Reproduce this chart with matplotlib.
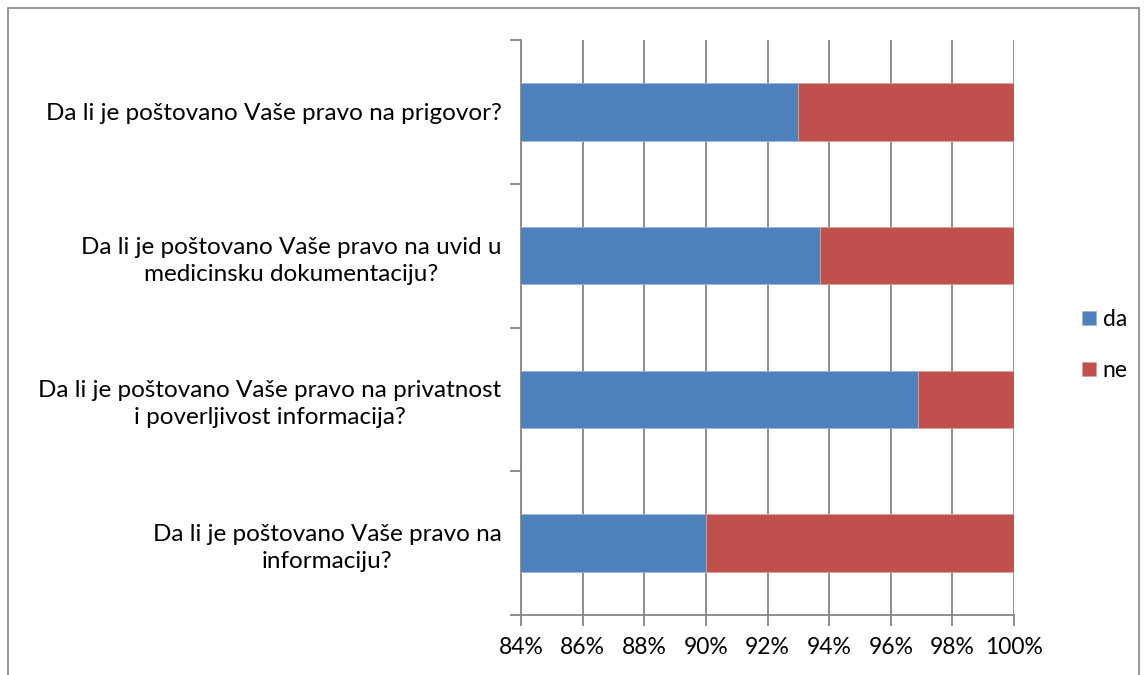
import matplotlib.pyplot as plt
from matplotlib.patches import Rectangle
from matplotlib.ticker import FixedLocator

plt.rcParams['font.family'] = ['Lato', 'DejaVu Sans']

# data (bottom to top as drawn)
questions = [
    "Da li je poštovano Vaše pravo na\ninformaciju?",
    "Da li je poštovano Vaše pravo na privatnost\ni poverljivost informacija?",
    "Da li je poštovano Vaše pravo na uvid u\nmedicinsku dokumentaciju?",
    "Da li je poštovano Vaše pravo na prigovor?",
]
da = [90.0, 96.9, 93.7, 93.0]
ne = [10.0, 3.1, 6.3, 7.0]
xticks = [84, 86, 88, 90, 92, 94, 96, 98, 100]

blue = '#4F81BD'
red = '#C0504D'
grid_c = '#868686'

W, H = 1147, 675
fig = plt.figure(figsize=(W / 100, H / 100), dpi=100)
ax = fig.add_axes([521 / W, 1 - 615 / H, (1014 - 521) / W, (615 - 40) / H])

pos = list(range(len(questions)))
ax.barh(pos, da, height=0.4, color=blue, edgecolor='#9db7d9', linewidth=0.6, label='da', zorder=3)
ax.barh(pos, ne, left=da, height=0.4, color=red, edgecolor='#dca09f', linewidth=0.6, label='ne', zorder=3)

ax.set_xlim(84, 100)
ax.set_ylim(-0.5, len(questions) - 0.5)
ax.set_xticks(xticks)
ax.set_xticklabels([f"{t}%" for t in xticks], fontsize=16.5)
ax.xaxis.grid(True, color=grid_c, linewidth=1.3, zorder=0)

ax.set_yticks(pos)
ax.set_yticklabels(questions, fontsize=17.5, multialignment='center', linespacing=1.35)
ax.tick_params(axis='y', length=0, pad=14)
ax.yaxis.set_minor_locator(FixedLocator([p - 0.5 for p in pos] + [len(pos) - 0.5]))
ax.tick_params(axis='y', which='minor', length=8, color=grid_c, width=1.3)
ax.tick_params(axis='x', length=8, color=grid_c, width=1.3, pad=8)

for s in ['top', 'right']:
    ax.spines[s].set_visible(False)
for s in ['left', 'bottom']:
    ax.spines[s].set_color(grid_c)
    ax.spines[s].set_linewidth(1.3)

leg = fig.legend(loc='center left', bbox_to_anchor=(1066 / W, 1 - 345 / H), frameon=False,
                 fontsize=16.5, handlelength=0.6, handleheight=0.6, handletextpad=0.3,
                 labelspacing=1.3, borderpad=0.2)

# chart area border
fig.patches.append(Rectangle((8 / W, -0.05), (1139 - 8) / W, 1 - 8 / H + 0.05,
                             transform=fig.transFigure, fill=False,
                             edgecolor='#868686', linewidth=1.2))

fig.savefig('out.png', dpi=100)
